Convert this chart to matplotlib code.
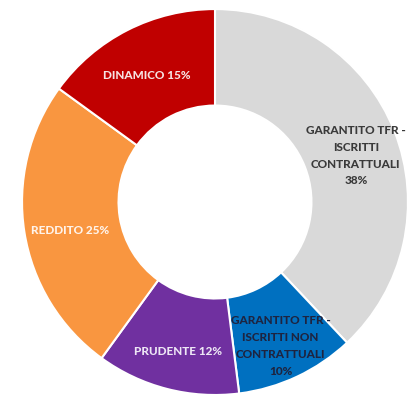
import matplotlib
matplotlib.use('Agg')
import matplotlib.pyplot as plt

# comparti, in ordine orario a partire dall'alto
labels = ['GARANTITO TFR -\nISCRITTI\nCONTRATTUALI', 'GARANTITO TFR -\nISCRITTI NON\nCONTRATTUALI',
          'PRUDENTE', 'REDDITO', 'DINAMICO']
values = [38, 10, 12, 25, 15]
colors = ['#D9D9D9', '#0070C0', '#7030A0', '#F99640', '#C00000']
text_colors = ['#3A3A3A', '#1E2440', '#EDE6F5', '#FFF3EA', '#F6E2E2']
# separatore tra nome e percentuale
seps = ['\n', '\n', ' ', ' ', ' ']
label_pos = [(0.73, 0.24), (0.34, -0.745), (-0.192, -0.777), (-0.751, -0.150), (-0.352, 0.658)]

plt.rcParams['font.family'] = ['Lato', 'DejaVu Sans']

fig = plt.figure(figsize=(4.08, 4.0), dpi=100)
ax = fig.add_axes([0, 0, 1, 1])

wedges, _ = ax.pie(values, colors=colors, startangle=90, counterclock=False, radius=1.0,
                   wedgeprops=dict(width=0.5, edgecolor='white', linewidth=1.5))

for i in range(len(values)):
    txt = labels[i] + seps[i] + str(values[i]) + '%'
    ax.text(label_pos[i][0], label_pos[i][1], txt, ha='center', va='center',
            fontsize=8.5, fontweight='black', color=text_colors[i], linespacing=1.65)

ax.set_xlim(-1.114, 1.0)
ax.set_ylim(-1.026, 1.047)
ax.set_aspect('equal')
ax.axis('off')

fig.savefig('out.png', dpi=100)
